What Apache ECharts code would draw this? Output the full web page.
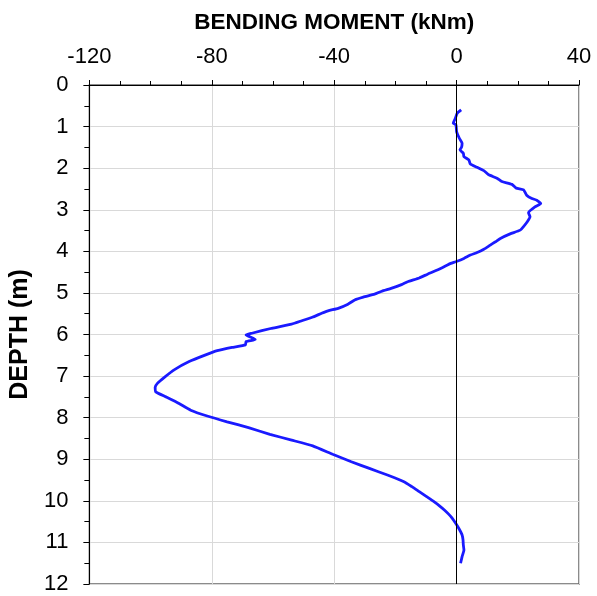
<!DOCTYPE html>
<html>
<head>
<meta charset="utf-8">
<script src="https://cdn.jsdelivr.net/npm/echarts@6/dist/echarts.min.js"></script>
<style>
  html, body { margin: 0; padding: 0; background: #fff; }
  #chart { width: 597px; height: 596px; }
</style>
</head>
<body>
<div id="chart"></div>
<script>
// Bending moment profile along the pile (kNm) against depth (m)
const depths = [
  0.60, 0.68, 0.80, 0.92, 0.96, 1.12, 1.28, 1.40, 1.50, 1.56, 1.64, 1.72, 1.80, 1.90, 1.98,
  2.06, 2.16, 2.24, 2.32, 2.39, 2.48, 2.52, 2.65, 2.73, 2.77, 2.85, 2.93, 3.07, 3.17, 3.29,
  3.41, 3.49, 3.58, 3.69, 3.77, 3.85, 3.95, 4.03, 4.09, 4.17, 4.25, 4.29, 4.37, 4.45, 4.55,
  4.64, 4.73, 4.80, 4.89, 4.96, 5.03, 5.10, 5.17, 5.27, 5.37, 5.43, 5.49, 5.58, 5.67, 5.75,
  5.85, 5.97, 6.01, 6.12, 6.17, 6.25, 6.31, 6.39, 6.49, 6.65, 6.85, 7.03, 7.17, 7.27, 7.38,
  7.50, 7.66, 7.82, 7.96, 8.10, 8.24, 8.40, 8.54, 8.68, 8.88, 9.06, 9.22, 9.38, 9.54, 9.66,
  9.78, 9.90, 10.02, 10.12, 10.22, 10.32, 10.42, 10.54, 10.66, 10.82, 10.94, 11.06, 11.18,
  11.34, 11.50
];
const moments = [
  1.5, 0.2, -0.4, -1.1, -0.2, 0.0, 0.9, 1.8, 1.6, 1.1, 2.2, 2.4, 4.0, 4.5, 6.7,
  8.9, 10.5, 13.2, 14.8, 18.1, 19.5, 21.9, 22.9, 24.6, 26.2, 27.5, 25.6, 23.5, 24.0, 23.1,
  21.8, 20.8, 17.5, 14.3, 12.7, 11.0, 8.9, 6.7, 4.5, 2.4, -0.3, -1.9, -4.1, -6.3, -9.5,
  -12.2, -16.0, -18.0, -21.4, -24.5, -26.8, -30.5, -33.3, -35.5, -38.7, -42.0, -44.1, -47.0, -50.6, -53.9,
  -60.4, -66.9, -68.8, -65.8, -68.8, -69.0, -73.4, -78.2, -82.0, -87.4, -92.3, -95.5, -97.7, -98.5, -98.3,
  -95.0, -90.7, -86.9, -81.5, -75.0, -68.0, -61.0, -53.9, -47.0, -40.5, -34.4, -28.5, -22.6, -17.2, -14.6,
  -12.2, -9.8, -7.4, -5.6, -4.0, -2.6, -1.4, -0.3, 0.7, 1.8, 2.1, 2.2, 2.4,
  1.8, 1.3
];

const momentTicks = { min: -120, max: 40, step: 40 };
const depthTicks = { min: 0, max: 12, step: 1 };

const points = depths.map((d, i) => [moments[i], d]);

const FONT = 'Liberation Sans, Arial, sans-serif';
const chart = echarts.init(document.getElementById('chart'), null, { renderer: 'canvas' });

chart.setOption({
  animation: false,
  backgroundColor: '#ffffff',
  grid: {
    left: 86, right: 18, top: 85, bottom: 12,
    show: true, borderColor: '#666', borderWidth: 1.5, backgroundColor: 'transparent'
  },
  xAxis: {
    type: 'value',
    position: 'top',
    min: momentTicks.min, max: momentTicks.max, interval: momentTicks.step,
    name: 'BENDING MOMENT (kNm)',
    nameLocation: 'middle',
    nameGap: 51,
    nameTextStyle: { fontFamily: FONT, fontWeight: 'bold', fontSize: 22.5, color: '#000' },
    axisLine: { show: true, onZero: false, lineStyle: { color: '#000', width: 1 } },
    axisTick: { show: true, inside: false, length: 5, lineStyle: { color: '#000' } },
    minorTick: { show: true, splitNumber: 4, length: 4, lineStyle: { color: '#000' } },
    axisLabel: { fontFamily: FONT, fontSize: 22, color: '#000', margin: 17 },
    splitLine: { show: true, lineStyle: { color: '#d9d9d9', width: 1 } }
  },
  yAxis: {
    type: 'value',
    inverse: true,
    min: depthTicks.min, max: depthTicks.max, interval: depthTicks.step,
    name: 'DEPTH (m)',
    nameLocation: 'middle',
    nameGap: 54,
    nameRotate: 90,
    nameTextStyle: { fontFamily: FONT, fontWeight: 'bold', fontSize: 25, color: '#000' },
    axisLine: { show: true, onZero: false, lineStyle: { color: '#000', width: 1 } },
    axisTick: { show: true, inside: false, length: 6, lineStyle: { color: '#000' } },
    minorTick: { show: true, splitNumber: 2, length: 5, lineStyle: { color: '#000' } },
    axisLabel: { fontFamily: FONT, fontSize: 22, color: '#000', margin: 21 },
    splitLine: { show: true, lineStyle: { color: '#d9d9d9', width: 1 } }
  },
  series: [{
    type: 'line',
    data: points,
    showSymbol: false,
    symbol: 'none',
    smooth: 0.15,
    lineStyle: { color: '#1a1aff', width: 2.8 },
    markLine: {
      silent: true,
      symbol: 'none',
      label: { show: false },
      lineStyle: { color: '#000', width: 1, type: 'solid' },
      data: [{ xAxis: 0 }]
    },
    z: 3
  }]
});
</script>
</body>
</html>
